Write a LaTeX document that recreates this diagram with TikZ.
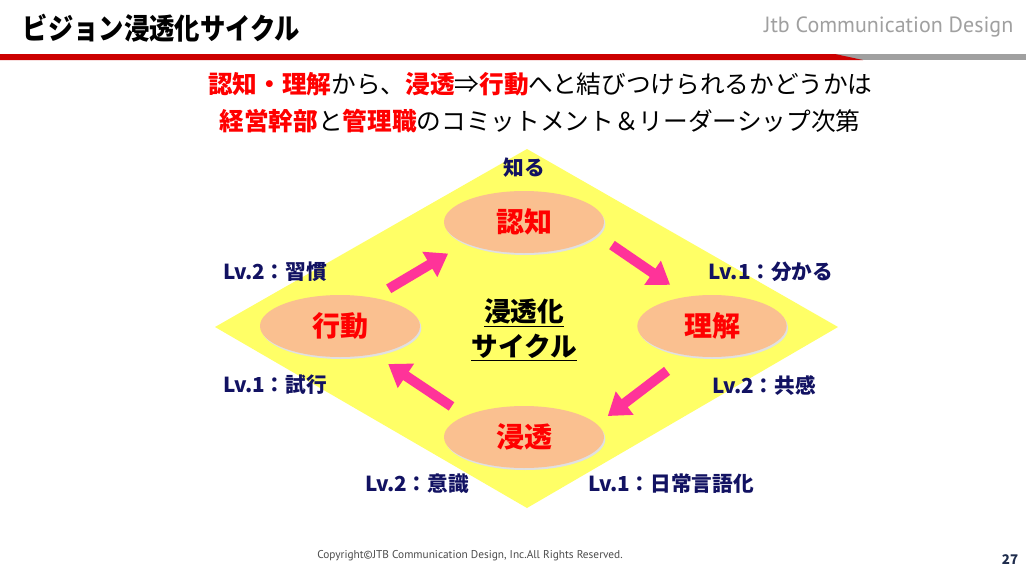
\documentclass[tikz,border=0pt]{standalone}
\usepackage{fontspec}
\newfontfamily\jp{Noto Sans CJK JP}
\newfontfamily\jpblk{Noto Sans CJK JP Black}
\newfontfamily\hdfont{PT Sans}
\usetikzlibrary{arrows.meta, shapes.geometric, shadows}
\definecolor{cycyellow}{HTML}{FFFF66}
\definecolor{cycpeach}{HTML}{FAC090}
\definecolor{cycpink}{HTML}{FF3399}
\definecolor{cycnavy}{HTML}{121262}
\definecolor{hdred}{HTML}{CC0000}
\definecolor{hdgray}{HTML}{A0A0A0}
\definecolor{txred}{HTML}{FF0000}
\definecolor{pgnavy}{HTML}{1F2D4D}
\newcommand\redtx[1]{{\bfseries\color{txred}#1}}

\begin{document}
\begin{tikzpicture}[x=0.75pt, y=-0.75pt,
  stage/.style={ellipse, fill=cycpeach, minimum width=120pt, minimum height=46.5pt,
    inner sep=0pt, text=txred, font=\jp\bfseries\fontsize{21}{24}\selectfont,
    general shadow={fill=black!12, shadow xshift=1pt, shadow yshift=-1.5pt}},
  lvl/.style={text=cycnavy, inner sep=0pt, font=\jp\bfseries\fontsize{15.5}{18}\selectfont},
  cyc/.style={-{Triangle[length=16pt, width=21pt]}, line width=7.5pt, cycpink}]
  \useasboundingbox (0,0) rectangle (1026,575);
  \fill[white] (0,0) rectangle (1026,575);
  % header
  \node[anchor=west, font=\jpblk\fontsize{19}{23}\selectfont] (title) at (18,28) {\scalebox{1}[1.15]{ビジョン浸透化サイクル}};
  \node[anchor=east, text=hdgray, font=\hdfont\fontsize{16.5}{19}\selectfont] (brand) at (1018,27) {Jtb Communication Design};
  \fill[hdgray] (0,54) rectangle (1026,60);
  \fill[hdred] (0,54) -- (835,54) -- (863,60) -- (0,60) -- cycle;
  % message
  \node[font=\jp\fontsize{18.5}{22}\selectfont] (sub1) at (540,84)
    {\redtx{認知・理解}から、\redtx{浸透}⇒\redtx{行動}へと結びつけられるかどうかは};
  \node[font=\jp\fontsize{18.5}{22}\selectfont] (sub2) at (540,121)
    {\redtx{経営幹部}と\redtx{管理職}のコミットメント＆リーダーシップ次第};
  % cycle
  \fill[cycyellow] (527,149) -- (838,327) -- (527,508) -- (215,327) -- cycle;
  \node[stage] (ninchi) at (524,222) {認知};
  \node[stage, minimum width=112pt] (rikai) at (712,326) {理解};
  \node[stage] (shinto) at (524,437) {浸透};
  \node[stage] (kodo) at (340,326) {行動};
  \node[align=center, font=\jp\bfseries\fontsize{20}{26}\selectfont] (core) at (524,330)
    {\underline{浸透化}\\\underline{サイクル}};
  \node[lvl] (shiru) at (524,168) {知る};
  \node[lvl] (kodo2) at (275,272) {Lv.2：習慣};
  \node[lvl] (kodo1) at (275,385) {Lv.1：試行};
  \node[lvl] (rikai1) at (771,272) {Lv.1：分かる};
  \node[lvl] (rikai2) at (764,386) {Lv.2：共感};
  \node[lvl] (shinto2) at (417,484) {Lv.2：意識};
  \node[lvl] (shinto1) at (671,484) {Lv.1：日常言語化};
  \draw[cyc, shorten <=13pt, shorten >=15pt] (kodo.40) -- (ninchi.200);
  \draw[cyc, shorten <=13.5pt, shorten >=15.5pt] (ninchi.-10) -- (rikai.130);
  \draw[cyc, shorten <=19pt, shorten >=10pt] (rikai.230) -- (shinto.10);
  \draw[cyc, shorten <=12.5pt, shorten >=13pt] (shinto.160) -- (kodo.-40);
  % footer
  \node[font=\hdfont\fontsize{8.5}{10}\selectfont, text=black!70] (copy) at (470,556)
    {Copyright©JTB Communication Design, Inc.All Rights Reserved.};
  \node[font=\jp\bfseries\fontsize{10}{12}\selectfont, text=pgnavy] (pgno) at (1010,560) {27};
\end{tikzpicture}
\end{document}
